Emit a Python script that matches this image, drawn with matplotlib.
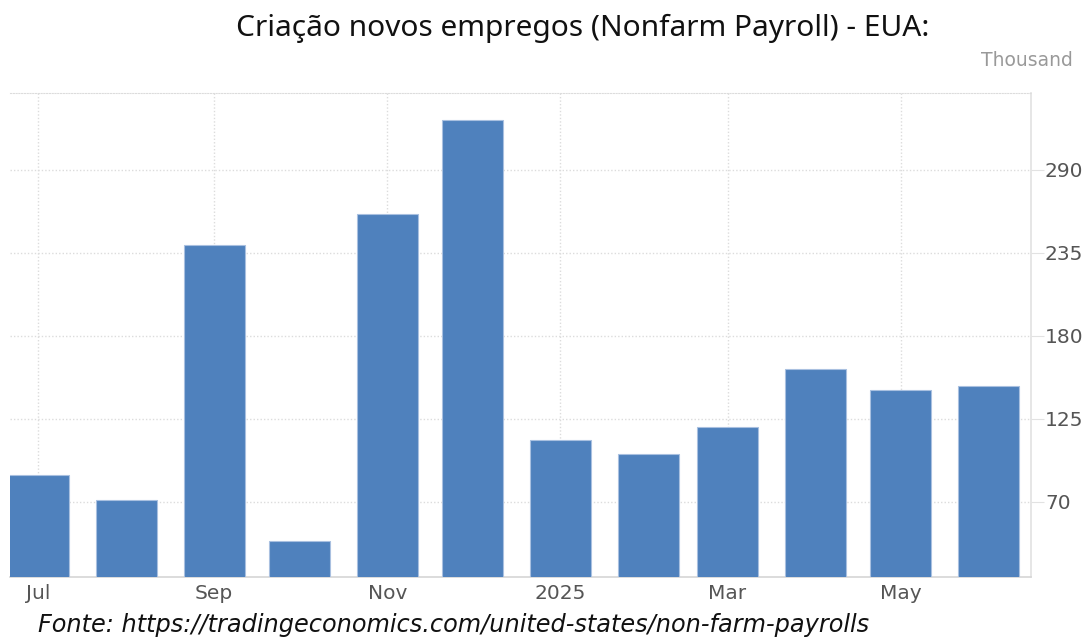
import matplotlib
matplotlib.use("Agg")
import matplotlib.pyplot as plt
import datetime as dt

months = ["2024-07", "2024-08", "2024-09", "2024-10", "2024-11", "2024-12",
          "2025-01", "2025-02", "2025-03", "2025-04", "2025-05", "2025-06"]
values = [88, 71, 240, 44, 261, 323, 111, 102, 120, 158, 144, 147]
yticks = [70, 125, 180, 235, 290]
xtick_months = ["2024-07", "2024-09", "2024-11", "2025-01", "2025-03", "2025-05"]
xtick_labels = ["Jul", "Sep", "Nov", "2025", "Mar", "May"]

dates = [dt.datetime.strptime(m + "-01", "%Y-%m-%d") for m in months]
xt = [dt.datetime.strptime(m + "-01", "%Y-%m-%d") for m in xtick_months]

fig = plt.figure(figsize=(10.84, 6.37), dpi=100)
ax = fig.add_axes([10/1084, 60/637, 1021/1084, 484/637])

ax.bar(dates, values, width=21.5, color="#4f81bd", edgecolor="#a9c0e0",
       linewidth=0.8, zorder=3)

ax.set_xlim(dates[0] - dt.timedelta(days=10), dates[-1] + dt.timedelta(days=15))
ax.set_ylim(20.3, 341)

ax.set_yticks(yticks)
ax.set_xticks(xt)
ax.set_xticklabels(xtick_labels)
ax.yaxis.tick_right()

grid_kw = dict(color="#dcdcdc", linestyle=(0, (1, 1.5)), linewidth=1.0)
ax.grid(True, axis="both", **grid_kw)
ax.set_axisbelow(True)

ax.spines["left"].set_visible(False)
ax.spines["top"].set_color("#dcdcdc")
ax.spines["top"].set_linestyle((0, (1, 1.5)))
ax.spines["right"].set_color("#e2e2e2")
ax.spines["right"].set_linewidth(1.2)
ax.spines["bottom"].set_color("#d6d6d6")
ax.spines["bottom"].set_linewidth(1.2)

tick_font = ["DejaVu Sans"]
ax.tick_params(axis="y", length=9, color="#e2e2e2", pad=1, labelsize=14.5,
               labelcolor="#555555", direction="out")
ax.tick_params(axis="x", length=0, pad=5, labelsize=14.5, labelcolor="#555555")
for lab in ax.get_yticklabels() + ax.get_xticklabels():
    lab.set_family(tick_font)

fig.text(583/1084, 1 - 28/637, "Criação novos empregos (Nonfarm Payroll) - EUA:",
         ha="center", va="center", fontsize=21.5, family=["Noto Sans", "DejaVu Sans"],
         color="#111111")
fig.text(1073/1084, 1 - 61/637, "Thousand", ha="right", va="center",
         fontsize=13.5, family=tick_font, color="#999999")
fig.text(38/1084, 1 - 625/637,
         "Fonte: https://tradingeconomics.com/united-states/non-farm-payrolls",
         ha="left", va="center", fontsize=17.3, style="italic",
         family=["DejaVu Sans"], color="#111111")

fig.savefig("out.png", dpi=100)
